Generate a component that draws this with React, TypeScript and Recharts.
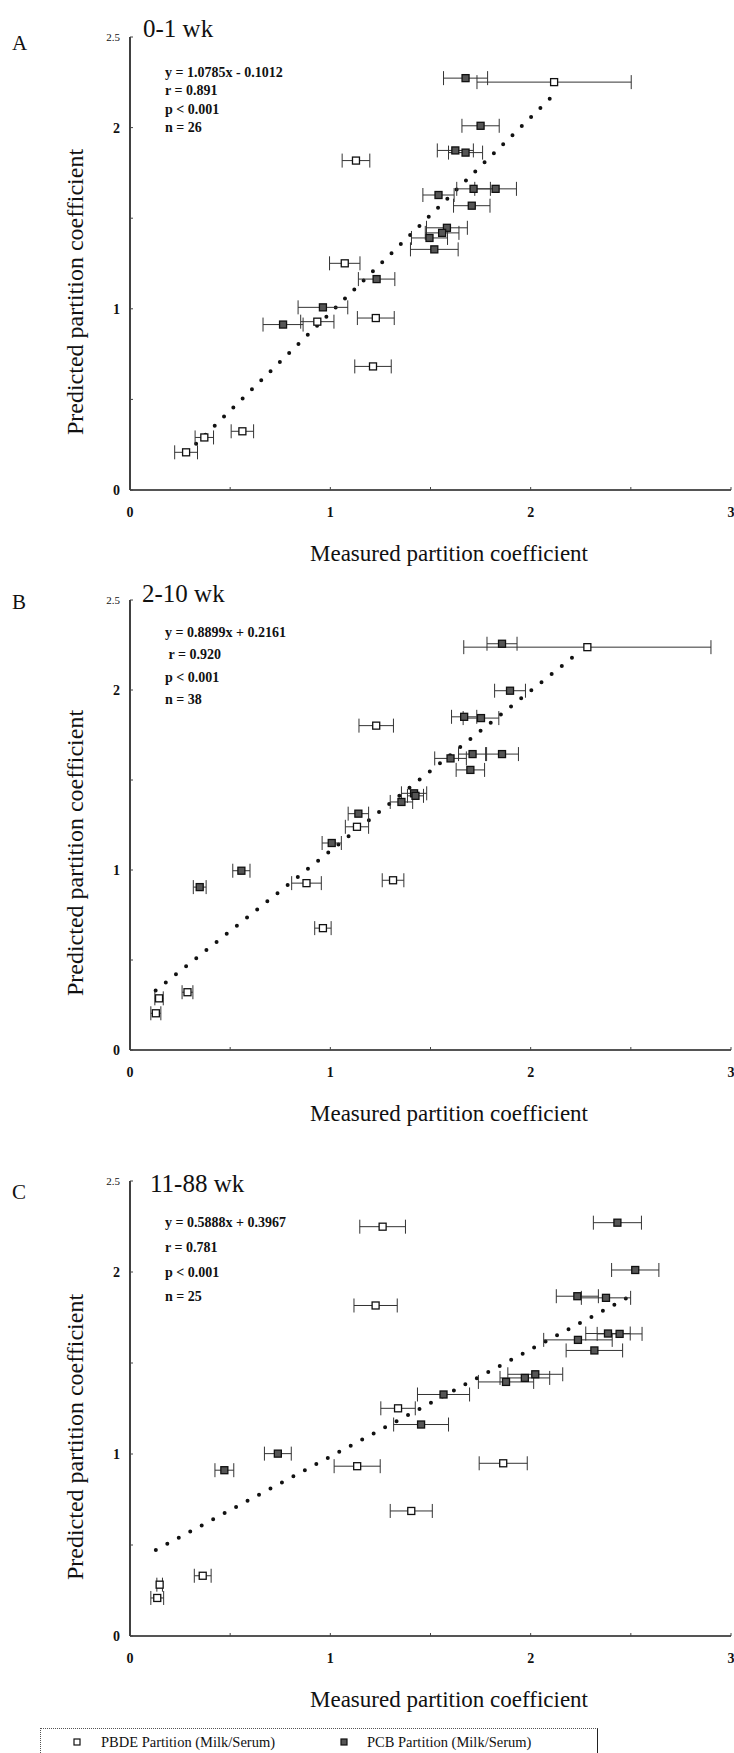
import React from "react";
import { ScatterChart, Scatter, XAxis, YAxis, ErrorBar, ReferenceLine } from "recharts";

// tick values
const xTicks = [0, 0.5, 1, 1.5, 2, 2.5, 3];
const yTicks = [0, 0.5, 1, 1.5, 2, 2.5];
const xLabelled = [0, 1, 2, 3];
const yLabelled = [0, 1, 2, 2.5];

// panel A, 0-1 wk
const pbdeA = [
  { x: 2.117, y: 2.251, ex: 0.385 },
  { x: 1.128, y: 1.818, ex: 0.069 },
  { x: 1.072, y: 1.251, ex: 0.076 },
  { x: 1.227, y: 0.949, ex: 0.092 },
  { x: 0.935, y: 0.929, ex: 0.083 },
  { x: 1.213, y: 0.682, ex: 0.091 },
  { x: 0.561, y: 0.324, ex: 0.056 },
  { x: 0.371, y: 0.29, ex: 0.046 },
  { x: 0.28, y: 0.208, ex: 0.057 },
];
const pcbA = [
  { x: 1.675, y: 2.273, ex: 0.11 },
  { x: 1.75, y: 2.01, ex: 0.093 },
  { x: 1.624, y: 1.874, ex: 0.09 },
  { x: 1.675, y: 1.862, ex: 0.085 },
  { x: 1.715, y: 1.662, ex: 0.084 },
  { x: 1.825, y: 1.662, ex: 0.104 },
  { x: 1.54, y: 1.628, ex: 0.078 },
  { x: 1.706, y: 1.569, ex: 0.091 },
  { x: 1.582, y: 1.447, ex: 0.102 },
  { x: 1.558, y: 1.419, ex: 0.084 },
  { x: 1.495, y: 1.391, ex: 0.09 },
  { x: 1.519, y: 1.328, ex: 0.119 },
  { x: 1.231, y: 1.164, ex: 0.091 },
  { x: 0.963, y: 1.008, ex: 0.124 },
  { x: 0.764, y: 0.913, ex: 0.1 },
];
const trendA = [
  { x: 0.33, y: 0.255 },
  { x: 2.11, y: 2.175 },
];
const statsA = ["y = 1.0785x - 0.1012", "r = 0.891", "p < 0.001", "n = 26"];

// panel B, 2-10 wk
const pbdeB = [
  { x: 2.283, y: 2.238, ex: 0.617 },
  { x: 1.229, y: 1.802, ex: 0.086 },
  { x: 1.133, y: 1.24, ex: 0.058 },
  { x: 0.881, y: 0.927, ex: 0.074 },
  { x: 1.313, y: 0.943, ex: 0.054 },
  { x: 0.963, y: 0.677, ex: 0.041 },
  { x: 0.287, y: 0.321, ex: 0.027 },
  { x: 0.145, y: 0.287, ex: 0.021 },
  { x: 0.129, y: 0.204, ex: 0.025 },
];
const pcbB = [
  { x: 1.857, y: 2.257, ex: 0.075 },
  { x: 1.897, y: 1.996, ex: 0.077 },
  { x: 1.668, y: 1.851, ex: 0.063 },
  { x: 1.752, y: 1.844, ex: 0.089 },
  { x: 1.71, y: 1.644, ex: 0.07 },
  { x: 1.857, y: 1.644, ex: 0.082 },
  { x: 1.6, y: 1.62, ex: 0.079 },
  { x: 1.699, y: 1.556, ex: 0.071 },
  { x: 1.418, y: 1.426, ex: 0.063 },
  { x: 1.425, y: 1.412, ex: 0.04 },
  { x: 1.355, y: 1.378, ex: 0.056 },
  { x: 1.14, y: 1.313, ex: 0.051 },
  { x: 1.007, y: 1.15, ex: 0.048 },
  { x: 0.556, y: 0.996, ex: 0.043 },
  { x: 0.348, y: 0.905, ex: 0.032 },
];
const trendB = [
  { x: 0.128, y: 0.33 },
  { x: 2.25, y: 2.218 },
];
const statsB = ["y = 0.8899x + 0.2161", " r = 0.920", "p < 0.001", "n = 38"];

// panel C, 11-88 wk
const pbdeC = [
  { x: 1.261, y: 2.249, ex: 0.114 },
  { x: 1.226, y: 1.816, ex: 0.108 },
  { x: 1.338, y: 1.251, ex: 0.086 },
  { x: 1.134, y: 0.933, ex: 0.115 },
  { x: 1.863, y: 0.949, ex: 0.12 },
  { x: 1.404, y: 0.687, ex: 0.105 },
  { x: 0.363, y: 0.331, ex: 0.042 },
  { x: 0.148, y: 0.282, ex: 0.014 },
  { x: 0.136, y: 0.209, ex: 0.032 },
];
const pcbC = [
  { x: 2.433, y: 2.271, ex: 0.12 },
  { x: 2.522, y: 2.011, ex: 0.118 },
  { x: 2.233, y: 1.867, ex: 0.105 },
  { x: 2.376, y: 1.858, ex: 0.123 },
  { x: 2.386, y: 1.662, ex: 0.111 },
  { x: 2.444, y: 1.66, ex: 0.112 },
  { x: 2.236, y: 1.627, ex: 0.171 },
  { x: 2.318, y: 1.569, ex: 0.141 },
  { x: 2.023, y: 1.438, ex: 0.137 },
  { x: 1.971, y: 1.418, ex: 0.124 },
  { x: 1.877, y: 1.396, ex: 0.138 },
  { x: 1.565, y: 1.327, ex: 0.13 },
  { x: 1.453, y: 1.162, ex: 0.137 },
  { x: 0.738, y: 1.002, ex: 0.067 },
  { x: 0.471, y: 0.911, ex: 0.047 },
];
const trendC = [
  { x: 0.129, y: 0.473 },
  { x: 2.51, y: 1.875 },
];
const statsC = ["y = 0.5888x + 0.3967", "r = 0.781", "p < 0.001", "n = 25"];

const FONT = "'Liberation Serif', 'DejaVu Serif', serif";

const panels = [
  { letter: "A", title: "0-1 wk", pbde: pbdeA, pcb: pcbA, trend: trendA, stats: statsA, plotTop: 37, plotBottom: 490, letterY: 43, titleY: 28, titleX: 143, statsY: 73, statsGap: 18.3 },
  { letter: "B", title: "2-10 wk", pbde: pbdeB, pcb: pcbB, trend: trendB, stats: statsB, plotTop: 600, plotBottom: 1050, letterY: 602, titleY: 593, titleX: 142, statsY: 633, statsGap: 22.3 },
  { letter: "C", title: "11-88 wk", pbde: pbdeC, pcb: pcbC, trend: trendC, stats: statsC, plotTop: 1181, plotBottom: 1636, letterY: 1192, titleY: 1183, titleX: 150, statsY: 1223, statsGap: 24.8 },
];

const OpenSquare = (p: any) => (
  <rect x={p.cx - 3.5} y={p.cy - 3.5} width={7} height={7} fill="#fff" stroke="#111" strokeWidth={1.3} />
);
const FilledSquare = (p: any) => (
  <rect x={p.cx - 3.5} y={p.cy - 3.5} width={7} height={7} fill="#555" stroke="#111" strokeWidth={1.3} />
);

const XTick = (p: any) => {
  const v = p.payload.value;
  return (
    <g>
      <line x1={p.x} y1={p.y} x2={p.x} y2={p.y - 3} stroke="#444" strokeWidth={1} />
      {xLabelled.includes(v) && (
        <text x={p.x} y={p.y + 27} textAnchor="middle" fontSize={14} fontWeight="bold" fontFamily={FONT} fill="#111">
          {v}
        </text>
      )}
    </g>
  );
};

const YTick = (p: any) => {
  const v = p.payload.value;
  const small = v === 2.5;
  return (
    <g>
      <line x1={p.x} y1={p.y} x2={p.x + 3} y2={p.y} stroke="#444" strokeWidth={1} />
      {yLabelled.includes(v) && (
        <text
          x={p.x - 10}
          y={p.y + (small ? 4 : 5)}
          textAnchor="end"
          fontSize={small ? 11 : 14}
          fontWeight={small ? "normal" : "bold"}
          fontFamily={FONT}
          fill="#111"
        >
          {v}
        </text>
      )}
    </g>
  );
};

const abs = (left: number, top: number, extra: React.CSSProperties = {}): React.CSSProperties => ({
  position: "absolute",
  left,
  top,
  transform: "translateY(-50%)",
  lineHeight: 1,
  whiteSpace: "pre",
  fontFamily: FONT,
  color: "#111",
  ...extra,
});

const Panel = ({ cfg }: { cfg: (typeof panels)[number] }) => {
  const chartTop = cfg.plotTop - 37;
  const plotH = cfg.plotBottom - cfg.plotTop;
  const height = 37 + plotH + 30 + 10;
  const midY = (cfg.plotTop + cfg.plotBottom) / 2;
  return (
    <>
      <div style={{ position: "absolute", left: 0, top: chartTop }}>
        <ScatterChart width={734} height={height} margin={{ top: 37, right: 3, bottom: 10, left: 70 }}>
          <XAxis
            type="number"
            dataKey="x"
            domain={[0, 3]}
            ticks={xTicks}
            interval={0}
            tickSize={0}
            tickMargin={0}
            height={30}
            axisLine={{ stroke: "#555", strokeWidth: 2 }}
            tickLine={false}
            tick={<XTick />}
          />
          <YAxis
            type="number"
            dataKey="y"
            domain={[0, 2.5]}
            ticks={yTicks}
            interval={0}
            tickSize={0}
            tickMargin={0}
            width={60}
            axisLine={{ stroke: "#111", strokeWidth: 1.6 }}
            tickLine={false}
            tick={<YTick />}
          />
          <ReferenceLine
            segment={cfg.trend}
            stroke="#111"
            strokeWidth={4}
            strokeDasharray="0 13"
            strokeLinecap="round"
          />
          <Scatter data={cfg.pbde} shape={OpenSquare} isAnimationActive={false}>
            <ErrorBar dataKey="ex" direction="x" width={7} stroke="#333" strokeWidth={1} isAnimationActive={false} />
          </Scatter>
          <Scatter data={cfg.pcb} shape={FilledSquare} isAnimationActive={false}>
            <ErrorBar dataKey="ex" direction="x" width={7} stroke="#333" strokeWidth={1} isAnimationActive={false} />
          </Scatter>
        </ScatterChart>
      </div>
      <div style={abs(12, cfg.letterY, { fontSize: 21 })}>{cfg.letter}</div>
      <div style={abs(cfg.titleX, cfg.titleY, { fontSize: 25 })}>{cfg.title}</div>
      {cfg.stats.map((s, i) => (
        <div key={i} style={abs(165, cfg.statsY + i * cfg.statsGap, { fontSize: 14, fontWeight: "bold" })}>
          {s}
        </div>
      ))}
      <div
        style={{
          position: "absolute",
          left: 75,
          top: midY + 28,
          transform: "translate(-50%, -50%) rotate(-90deg)",
          fontSize: 24,
          fontFamily: FONT,
          whiteSpace: "nowrap",
          lineHeight: 1,
          color: "#111",
        }}
      >
        Predicted partition coefficient
      </div>
      <div
        style={{
          position: "absolute",
          left: 449,
          top: cfg.plotBottom + 63,
          transform: "translate(-50%, -50%)",
          fontSize: 23,
          fontFamily: FONT,
          whiteSpace: "nowrap",
          lineHeight: 1,
          color: "#111",
        }}
      >
        Measured partition coefficient
      </div>
    </>
  );
};

export default function App() {
  return (
    <div style={{ position: "absolute", left: 0, top: 0, width: 734, height: 1753, background: "#fff", overflow: "hidden" }}>
      {panels.map((p) => (
        <Panel key={p.letter} cfg={p} />
      ))}
      <div
        style={{
          position: "absolute",
          left: 40,
          top: 1728,
          width: 556,
          height: 30,
          borderTop: "1px dotted #555",
          borderLeft: "1px dotted #555",
          borderRight: "1.5px solid #222",
        }}
      >
        <svg style={{ position: "absolute", left: 32, top: 9 }} width={8} height={8}>
          <rect x={1} y={1} width={6} height={6} fill="#fff" stroke="#111" strokeWidth={1.2} />
        </svg>
        <div style={abs(60, 13, { fontSize: 14.5 })}>PBDE Partition (Milk/Serum)</div>
        <svg style={{ position: "absolute", left: 299, top: 9 }} width={8} height={8}>
          <rect x={1} y={1} width={6} height={6} fill="#555" stroke="#111" strokeWidth={1.2} />
        </svg>
        <div style={abs(326, 13, { fontSize: 14.5 })}>PCB Partition (Milk/Serum)</div>
      </div>
    </div>
  );
}
